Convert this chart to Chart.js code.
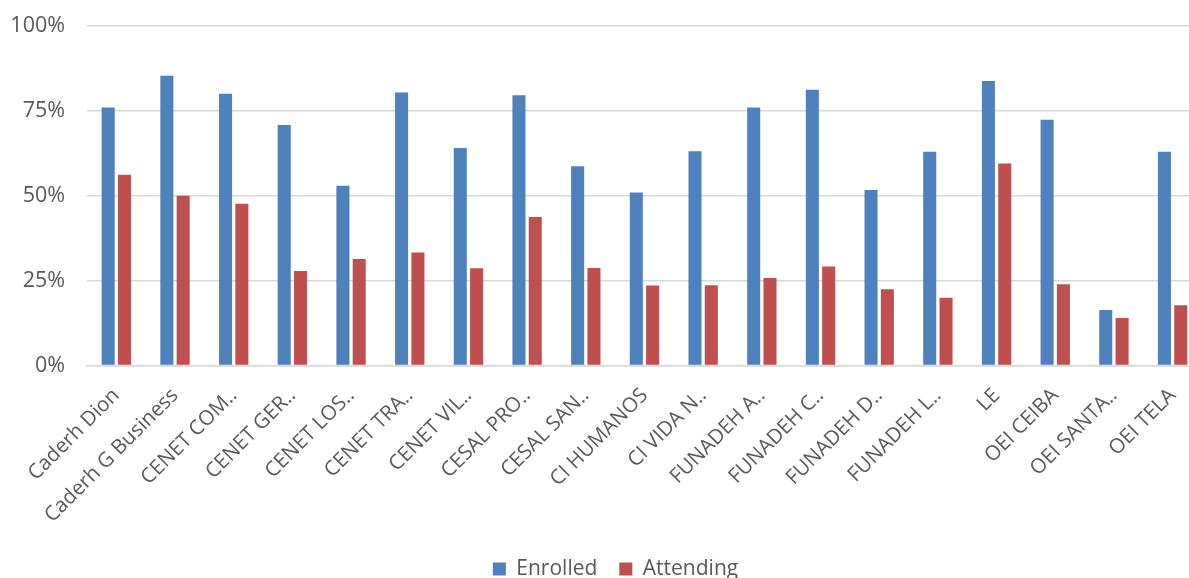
<!DOCTYPE html>
<html>
<head>
<meta charset="utf-8">
<script src="https://cdn.jsdelivr.net/npm/chart.js@4"></script>
<style>
html,body{margin:0;padding:0;overflow:hidden;background:#fff;}
#wrap{width:1208px;height:578px;position:relative;}
</style>
</head>
<body>
<div id="wrap"><canvas id="c"></canvas></div>
<script>
const categories = ["Caderh Dion","Caderh G Business","CENET COM..","CENET GER..","CENET LOS..","CENET TRA..","CENET VIL..","CESAL PRO..","CESAL SAN..","CI HUMANOS","CI VIDA N..","FUNADEH A..","FUNADEH C..","FUNADEH D..","FUNADEH L..","LE","OEI CEIBA","OEI SANTA..","OEI TELA"];
const enrolled = [75.9,85.2,79.9,70.7,52.9,80.3,64.0,79.5,58.6,50.9,63.0,75.9,81.1,51.6,62.9,83.7,72.3,16.3,62.9];
const attending = [56.1,49.9,47.6,27.8,31.3,33.2,28.6,43.7,28.7,23.5,23.6,25.7,29.1,22.4,19.9,59.4,23.9,14.0,17.7];
const yTicks = [0,25,50,75,100];

const FONT = "'Open Sans', 'Liberation Sans', sans-serif";

// shift the legend block to the right (the reference chart is cropped on its right side)
const legendShift = {
  id: 'legendShift',
  afterLayout(chart) {
    if (chart.legend) {
      chart.legend.left += 23;
      if (chart.legend.adjustHitBoxes) chart.legend.adjustHitBoxes();
    }
  }
};

new Chart(document.getElementById('c'), {
  type: 'bar',
  data: {
    labels: categories,
    datasets: [
      {label: 'Enrolled', data: enrolled, backgroundColor: '#4F81BD', borderWidth: 0},
      {label: 'Attending', data: attending, backgroundColor: '#C0504D', borderWidth: 0}
    ]
  },
  options: {
    responsive: true,
    maintainAspectRatio: false,
    animation: false,
    layout: {padding: {top: 25.5, right: 0, left: 0, bottom: -11.5}},
    datasets: {bar: {categoryPercentage: 0.556, barPercentage: 0.8}},
    plugins: {
      tooltip: {enabled: false},
      legend: {
        position: 'bottom',
        labels: {
          boxWidth: 13, boxHeight: 13, padding: 22,
          color: '#595959',
          font: {family: FONT, size: 21}
        }
      }
    },
    scales: {
      x: {
        grid: {display: false, drawTicks: false},
        border: {display: true, color: '#d9d9d9', width: 1.5},
        ticks: {
          color: '#595959', font: {family: FONT, size: 20.5},
          maxRotation: 45, minRotation: 45, autoSkip: false, padding: 18
        },
        afterFit: s => { s.height = 171; }
      },
      y: {
        min: 0, max: 100,
        afterBuildTicks: s => { s.ticks = yTicks.map(v => ({value: v})); },
        grid: {color: '#d9d9d9', lineWidth: 1.5, drawTicks: true, tickLength: 22, tickColor: 'rgba(0,0,0,0)'},
        border: {display: false},
        ticks: {
          color: '#595959', font: {family: FONT, size: 21.5}, padding: 0,
          callback: v => v + '%'
        },
        afterFit: s => { s.width = 87; }
      }
    }
  },
  plugins: [legendShift]
});
</script>
</body>
</html>
